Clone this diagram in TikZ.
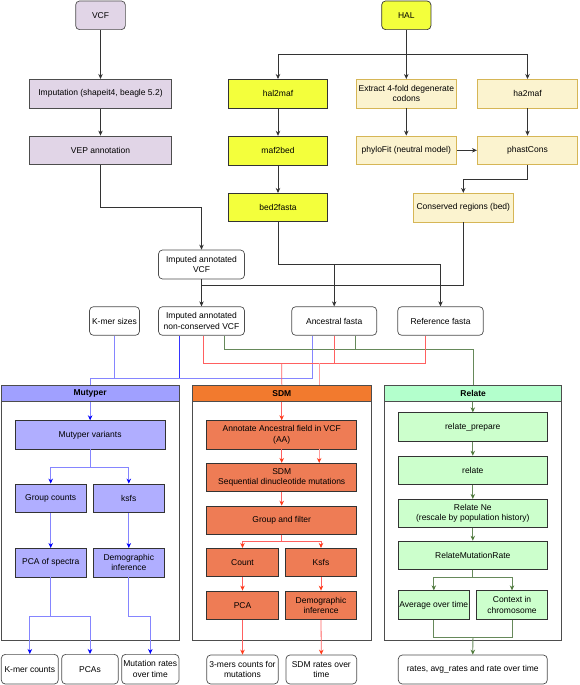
\documentclass[tikz,border=0pt]{standalone}
\usepackage{fontspec}
\setmainfont{Liberation Sans}
\usetikzlibrary{arrows.meta,calc}
\definecolor{purF}{HTML}{E1D5E7}
\definecolor{yelF}{HTML}{F3FF3C}
\definecolor{crmF}{HTML}{FBF3CF}
\definecolor{crmD}{HTML}{D6B656}
\definecolor{boxD}{HTML}{4D4D4D}
\definecolor{mutH}{HTML}{A0A0FF}
\definecolor{mutF}{HTML}{B0AEFF}
\definecolor{sdmH}{HTML}{F27A2E}
\definecolor{sdmF}{HTML}{EE7C55}
\definecolor{relH}{HTML}{B3FFCC}
\definecolor{relF}{HTML}{CCFFCC}
\definecolor{blueL}{HTML}{8585FF}
\definecolor{blueS}{HTML}{3535FF}
\definecolor{redM}{HTML}{FF6060}
\definecolor{redL}{HTML}{FF9E9E}
\definecolor{redT}{HTML}{FF3A1A}
\definecolor{grnL}{HTML}{66895A}
\definecolor{grnT}{HTML}{4F7A3C}
\tikzset{
  sz/.style 2 args={minimum width=#1,minimum height=#2},
  bx/.style={draw=boxD, line width=0.7pt, inner sep=1pt, align=center},
  purp/.style={bx, fill=purF},
  yel/.style={bx, draw=black!80, fill=yelF},
  crm/.style={bx, draw=crmD, fill=crmF},
  wht/.style={bx, fill=white, rounded corners=4pt},
  mbx/.style={bx, draw=black!80, fill=mutF},
  sbx/.style={bx, draw=black!80, fill=sdmF},
  rbx/.style={bx, draw=black!80, fill=relF},
  cont/.style={draw=boxD, line width=0.7pt, inner sep=0pt},
  hdr/.style={draw=boxD, line width=0.7pt, inner sep=0pt, font=\fontsize{8.5}{10.5}\selectfont\bfseries},
  tip/.style={-{Stealth[length=5pt,width=4.5pt,#1]}},
  arr/.style={draw=black!80, line width=0.7pt, tip},
  ln/.style={draw=black!80, line width=0.7pt},
  bl/.style={draw=blueL, line width=0.8pt},
  bs/.style={draw=blueS, line width=0.7pt},
  ba/.style={draw=blueL, line width=0.8pt, tip={color=blue}},
  rm/.style={draw=redM, line width=0.8pt},
  rl/.style={draw=redL, line width=0.8pt},
  ra/.style={draw=redM, line width=0.8pt, tip={color=redT}},
  ral/.style={draw=redL, line width=0.8pt, tip={color=redT}},
  gr/.style={draw=grnL, line width=0.8pt},
  ga/.style={draw=grnL, line width=0.8pt, tip={color=grnT}},
}
\begin{document}
\begin{tikzpicture}[x=1pt,y=-1pt,font=\fontsize{8.5}{10.5}\selectfont]
\useasboundingbox (0,0) rectangle (579,685);
% ---------- top section ----------
\node[purp, rounded corners=4pt, sz={49.7}{28.7}] (vcf) at (100.5,15.3) {VCF};
\node[purp, sz={142.4}{29}] (imp) at (100.5,93.8) {Imputation (shapeit4, beagle 5.2)};
\node[purp, sz={142.4}{28.7}] (vep) at (100.5,150.3) {VEP annotation};
\node[yel, rounded corners=4pt, sz={49.3}{28.7}] (hal) at (406.3,15.3) {HAL};
\node[yel, sz={99.4}{28.7}] (h2m) at (278,93.7) {hal2maf};
\node[yel, sz={99.4}{28.7}] (m2b) at (278,150.5) {maf2bed};
\node[yel, sz={99.4}{28.4}] (b2f) at (278,207.5) {bed2fasta};
\node[crm, sz={100.7}{28.7}] (ext) at (406.3,93.7) {Extract 4-fold degenerate\\codons};
\node[crm, sz={100.7}{28.7}] (phy) at (406.3,150.3) {phyloFit (neutral model)};
\node[crm, sz={100.4}{28.7}] (ha2) at (527.5,93.7) {ha2maf};
\node[crm, sz={100.4}{28.7}] (pc) at (527.5,150.3) {phastCons};
\node[crm, sz={100}{28.7}] (cons) at (463.3,207.6) {Conserved regions (bed)};
\node[wht, sz={86}{29}] (iav) at (201.5,264.5) {Imputed annotated\\VCF};
\node[wht, sz={86}{28.6}] (nc) at (201.5,321) {Imputed annotated\\non-conserved VCF};
\node[wht, sz={50}{28.6}] (kmer) at (114.5,321) {K-mer sizes};
\node[wht, sz={85}{28.6}] (anc) at (334.2,321) {Ancestral fasta};
\node[wht, sz={85.6}{28.6}] (ref) at (440.5,321) {Reference fasta};

\draw[arr] (vcf.south) -- (imp.north);
\draw[arr] (imp.south) -- (vep.north);
\draw[arr] (vep.south) -- ++(0,42) -| (iav.north);
\draw[arr] (iav.south) -- (nc.north);
\draw[arr] (hal.south) -- (ext.north);
\draw[arr] (hal.south) -- ++(0,24.6) -| (h2m.north);
\draw[arr] (hal.south) -- ++(0,24.6) -| (ha2.north);
\draw[arr] (h2m.south) -- (m2b.north);
\draw[arr] (m2b.south) -- (b2f.north);
\draw[arr] (ext.south) -- (phy.north);
\draw[arr] (ha2.south) -- (pc.north);
\draw[arr] (phy.east) -- (pc.west);
\draw[arr] (pc.south) -- ++(0,14.3) -| (cons.north);
\draw[arr] (b2f.south) -- ++(0,42.6) -| (anc.north);
\draw[arr] (b2f.south) -- ++(0,42.6) -| (ref.north);
\draw[ln] (cons.south) -- ++(0,63.3) -| ($(iav.south)+(0,6.3)$);

% ---------- containers ----------
\node[cont, sz={177.7}{255.7}] (mutC) at (90.15,512.85) {};
\node[hdr, fill=mutH, sz={177.7}{16.7}] (mutHd) at (90.15,393.35) {Mutyper};
\node[cont, sz={178.3}{255.7}] (sdmC) at (281.85,512.85) {};
\node[hdr, fill=sdmH, sz={178.3}{16.7}] (sdmHd) at (281.85,393.35) {SDM};
\node[cont, sz={177}{255}] (relC) at (473.2,512.5) {};
\node[hdr, fill=relH, sz={177}{16.7}] (relHd) at (473.2,393.35) {Relate};

% ---------- feeding connectors ----------
\draw[bl] (kmer.south) -- ++(0,42.4);
\draw[bs] ($(nc.south)+(-22,0)$) -- ++(0,42.4);
\draw[bl] ($(anc.south)+(-21.7,0)$) -- ++(0,42.4) -| (mutHd.north);
\draw[gr] ($(nc.south)+(22.5,0)$) -- ++(0,14) -| (relHd.north);
\draw[gr] ($(anc.south)+(21.5,0)$) -- ++(0,14);
\draw[rm] ($(nc.south)+(1.5,0)$) -- ++(0,28.2) -| ($(ref.south)+(-15.5,0)$);
\draw[rm] (anc.south) -- ++(0,28.2);
\draw[rm] ($(sdmHd.north)+(-0.15,-21.5)$) -- (sdmHd.north);
\draw[rl] ($(sdmHd.north)+(37.5,-21.5)$) -- ++(0,21.5);

% ---------- Mutyper ----------
\node[mbx, sz={149.7}{28.3}] (mv) at (90.15,434.8) {Mutyper variants};
\node[mbx, sz={71.3}{28.7}] (gc) at (50.7,498.3) {Group counts};
\node[mbx, sz={71.7}{28.7}] (ks) at (128.8,498.3) {ksfs};
\node[mbx, sz={71.3}{28.7}] (ps) at (50.7,562.7) {PCA of spectra};
\node[mbx, sz={71.7}{28.7}] (di) at (128.8,562.7) {Demographic\\inference};
\node[wht, sz={57}{29.7}] (kc) at (29.8,669.2) {K-mer counts};
\node[wht, sz={56.6}{29.7}] (pcas) at (90,669.2) {PCAs};
\node[wht, sz={57.3}{29.7}] (mr) at (150.3,669.2) {Mutation rates\\over time};
\draw[ba] (mutHd.south) -- (mv.north);
\draw[ba] (mv.south) -- ++(0,17.7) -| (gc.north);
\draw[ba] (mv.south) -- ++(0,17.7) -| (ks.north);
\draw[ba] (gc.south) -- (ps.north);
\draw[ba] (ks.south) -- (di.north);
\draw[ba] (ps.south) -- ++(0,39) -| (kc.north);
\draw[ba] (ps.south) -- ++(0,39) -| (pcas.north);
\draw[ba] (di.south) -- ++(0,39) -| (mr.north);

% ---------- SDM ----------
\node[sbx, sz={150}{28.3}] (an) at (281.7,434.8) {Annotate Ancestral field in VCF\\(AA)};
\node[sbx, sz={150}{28.4}] (sd) at (281.7,477.5) {SDM\\Sequential dinucleotide mutations};
\node[sbx, sz={150}{28.3}] (gf) at (281.7,520.2) {Group and filter};
\node[sbx, sz={71.6}{28.4}] (cn) at (242.5,562.5) {Count};
\node[sbx, sz={71.4}{28.4}] (ks2) at (321,562.5) {Ksfs};
\node[sbx, sz={71.6}{28.7}] (pca2) at (242.5,605.3) {PCA};
\node[sbx, sz={71.4}{28.7}] (di2) at (321,605.3) {Demographic\\inference};
\node[wht, sz={71.6}{29}] (tri) at (242.5,669.5) {3-mers counts for\\mutations};
\node[wht, sz={70.7}{29}] (sr) at (321.3,669.5) {SDM rates over\\time};
\draw[ra] (sdmHd.south -| an.north) -- (an.north);
\draw[ra] (an.south) -- (sd.north);
\draw[ral] ($(an.south)+(37.5,0)$) -- ($(sd.north)+(37.5,0)$);
\draw[ra] (sd.south) -- (gf.north);
\draw[ra] (gf.south) -- ++(0,6.4) -| (cn.north);
\draw[ra] (gf.south) -- ++(0,6.4) -| (ks2.north);
\draw[ra] (cn.south) -- (pca2.north);
\draw[ra] (ks2.south) -- (di2.north);
\draw[ra] (pca2.south) -- (tri.north);
\draw[ra] (di2.south) -- (sr.north);

% ---------- Relate ----------
\node[rbx, sz={149}{29}] (rp) at (472.8,427.2) {relate\_prepare};
\node[rbx, sz={149}{28.3}] (rl) at (472.8,470.2) {relate};
\node[rbx, sz={149}{28.4}] (rne) at (472.8,513.5) {Relate Ne\\(rescale by population history)};
\node[rbx, sz={149}{28.3}] (rmr) at (472.8,555.2) {RelateMutationRate};
\node[rbx, sz={71}{28.6}] (avg) at (433.8,605) {Average over time};
\node[rbx, sz={70.6}{28.6}] (ctx) at (512,605) {Context in\\chromosome};
\node[wht, sz={149}{29}] (rout) at (472.8,669.5) {rates, avg\_rates and rate over time};
\draw[ga] (relHd.south -| rp.north) -- (rp.north);
\draw[ga] (rp.south) -- (rl.north);
\draw[ga] (rl.south) -- (rne.north);
\draw[ga] (rne.south) -- (rmr.north);
\draw[ga] (rmr.south) -- ++(0,7.4) -| (avg.north);
\draw[ga] (rmr.south) -- ++(0,7.4) -| (ctx.north);
\draw[gr] (avg.south) -- ++(0,18) -| (ctx.south);
\draw[ga] ($(avg.south)!0.5!(ctx.south)+(0,18)$) -- (rout.north);
\end{tikzpicture}
\end{document}
